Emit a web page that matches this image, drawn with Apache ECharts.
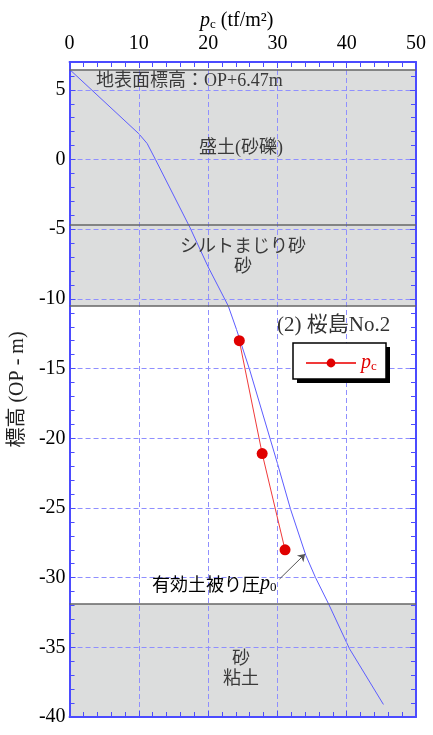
<!DOCTYPE html>
<html>
<head>
<meta charset="utf-8">
<script src="https://cdn.jsdelivr.net/npm/echarts@6/dist/echarts.min.js"></script>
<style>
  html, body { margin: 0; padding: 0; background: #fff; }
  #chart { width: 433px; height: 735px; }
</style>
</head>
<body>
<div id="chart"></div>
<script>
// Effective overburden pressure p0 profile (tf/m2) against elevation (OP m)
const p0Pressure = [0, 10.0, 11.2, 12.4, 17.4, 20.0, 22.9, 24.1, 26.0, 30.0, 31.9, 34.1, 35.5, 37.4, 40.4, 45.3];
const p0Elevation = [6.47, 1.85, 1.15, 0, -4.9, -7.7, -10.5, -12.2, -15.1, -21.8, -25.1, -28.4, -30.0, -31.9, -35.1, -39.1];

// Consolidation yield stress pc from the samples
const pcPressure = [24.5, 27.8, 31.1];
const pcElevation = [-13.0, -21.1, -28.0];

// Soil layer boundaries (OP m) and shaded layers
const groundLevel = 6.47;
const layerBoundaries = [6.47, -4.7, -10.5, -31.9];
const shadedLayers = [[6.47, -10.5], [-31.9, -40]];

// Axis ranges
const xRange = [0, 50], xStep = 10;
const yRange = [-40, 7], yStep = 5;

// Annotation arrow for p0 (tail, head)
const p0Arrow = [[30.3, -30.1], [34.0, -28.3]];

const serif = "'Liberation Serif', 'Noto Sans CJK JP', serif";
const cjk = "'Noto Sans CJK JP', sans-serif";
const axisBlue = '#4b4bff';
const gridBlue = '#8f8fff';
const labelGray = '#3a3a3a';

const pairs = (xs, ys) => xs.map((x, i) => [x, ys[i]]);

function axisDef(pos, showLabel) {
  const horizontal = pos === 'top' || pos === 'bottom';
  const range = horizontal ? xRange : yRange;
  const step = horizontal ? xStep : yStep;
  const def = {
    type: 'value', position: pos, min: range[0], max: range[1], interval: step,
    z: 2,
    axisLine: { show: true, onZero: false, lineStyle: { color: axisBlue, width: 2 } },
    axisTick: { show: true, inside: true, length: 6, lineStyle: { color: axisBlue, width: 1 } },
    minorTick: { show: true, splitNumber: 5, length: 5, lineStyle: { color: axisBlue, width: 1 } },
    axisLabel: { show: showLabel, margin: horizontal ? 8 : 4, color: '#000', fontFamily: serif, fontSize: 20 },
    splitLine: { show: showLabel, lineStyle: { color: gridBlue, type: [5, 3], width: 1 } }
  };
  if (!horizontal && showLabel) {
    def.axisLabel.formatter = v => (v % yStep === 0 ? String(v) : '');
    def.name = '標高 (OP - m)';
    def.nameLocation = 'middle';
    def.nameRotate = 90;
    def.nameGap = 25;
    def.nameTextStyle = { fontFamily: serif, fontSize: 20, color: '#222' };
  }
  return def;
}

const chart = echarts.init(document.getElementById('chart'));

const option = {
  animation: false,
  backgroundColor: '#fff',
  grid: { left: 66, right: 17, top: 62, bottom: 18 },
  xAxis: [axisDef('top', true), axisDef('bottom', false)],
  yAxis: [axisDef('left', true), axisDef('right', false)],
  legend: {
    data: ['pc'],
    left: 293, top: 343, z: 12,
    orient: 'horizontal',
    itemWidth: 50, itemHeight: 11,
    padding: [10, 8, 10, 12],
    formatter: () => '{p|p}{c|c}',
    textStyle: {
      rich: {
        p: { fontFamily: serif, fontStyle: 'italic', fontSize: 20, color: '#e00000' },
        c: { fontFamily: serif, fontSize: 13, color: '#e00000', verticalAlign: 'bottom', padding: [7, 0, 0, 0] }
      }
    }
  },
  series: [
    {
      name: 'p0', type: 'line', z: 1,
      data: pairs(p0Pressure, p0Elevation),
      symbol: 'none',
      lineStyle: { color: '#5c5cff', width: 1 },
      // shaded soil layers
      markArea: {
        silent: true,
        itemStyle: { color: '#dcdddd', opacity: 1 },
        data: shadedLayers.map(([a, b]) => [{ yAxis: a }, { yAxis: b }])
      },
      // arrow pointing at the p0 curve
      markLine: {
        silent: true, symbol: ['none', 'arrow'], symbolSize: 7,
        label: { show: false },
        lineStyle: { color: '#555', width: 1, type: 'solid' },
        data: [[{ coord: p0Arrow[0] }, { coord: p0Arrow[1] }]]
      }
    },
    {
      name: 'pc', type: 'line', z: 5,
      data: pairs(pcPressure, pcElevation),
      symbol: 'circle', symbolSize: 11,
      itemStyle: { color: '#e00000' },
      lineStyle: { color: '#f03a3a', width: 1 },
      // layer boundary lines
      markLine: {
        silent: true, symbol: 'none',
        label: { show: false },
        lineStyle: { color: '#666', width: 1.5, type: 'solid' },
        data: layerBoundaries.map(v => ({ yAxis: v }))
      }
    }
  ],
  graphic: [
    // legend frame with solid drop shadow
    { type: 'rect', z: 10, shape: { x: 297, y: 347, width: 93, height: 36 }, style: { fill: '#000' } },
    { type: 'rect', z: 11, shape: { x: 293, y: 343, width: 93, height: 36 }, style: { fill: '#fff', stroke: '#000', lineWidth: 1.5 } },
    {
      type: 'text', left: 200, top: 11, z: 10,
      style: {
        text: '{p|p}{c|c}{t| (tf/m²)}',
        rich: {
          p: { fontFamily: serif, fontStyle: 'italic', fontSize: 20, color: '#000' },
          c: { fontFamily: serif, fontSize: 13, color: '#000', verticalAlign: 'bottom', padding: [8, 0, 0, 0] },
          t: { fontFamily: serif, fontSize: 20, color: '#000' }
        }
      }
    },
    {
      type: 'text', left: 96, top: 72, z: 10,
      style: { text: '地表面標高：OP+' + groundLevel + 'm', fontFamily: serif, fontSize: 18, fill: labelGray }
    },
    {
      type: 'text', left: 199, top: 139, z: 10,
      style: { text: '盛土(砂礫)', fontFamily: serif, fontSize: 18, fill: labelGray }
    },
    {
      type: 'text', left: 180, top: 236, z: 10,
      style: { text: 'シルトまじり砂', fontFamily: cjk, fontSize: 18, fill: labelGray }
    },
    {
      type: 'text', left: 234, top: 256, z: 10,
      style: { text: '砂', fontFamily: cjk, fontSize: 18, fill: labelGray }
    },
    {
      type: 'text', left: 232, top: 648, z: 10,
      style: { text: '砂', fontFamily: cjk, fontSize: 18, fill: labelGray }
    },
    {
      type: 'text', left: 223, top: 668, z: 10,
      style: { text: '粘土', fontFamily: cjk, fontSize: 18, fill: labelGray }
    },
    {
      type: 'text', left: 277, top: 315, z: 10,
      style: { text: '(2) 桜島No.2', fontFamily: serif, fontSize: 21, fill: '#333' }
    },
    {
      type: 'text', left: 152, top: 574, z: 10,
      style: {
        text: '{j|有効土被り圧}{p|p}{s|0}',
        rich: {
          j: { fontFamily: cjk, fontSize: 18, color: '#444' },
          p: { fontFamily: serif, fontStyle: 'italic', fontSize: 20, color: '#222' },
          s: { fontFamily: serif, fontSize: 13, color: '#222', verticalAlign: 'bottom', padding: [8, 0, 0, 0] }
        }
      }
    }
  ]
};

chart.setOption(option);
</script>
</body>
</html>
